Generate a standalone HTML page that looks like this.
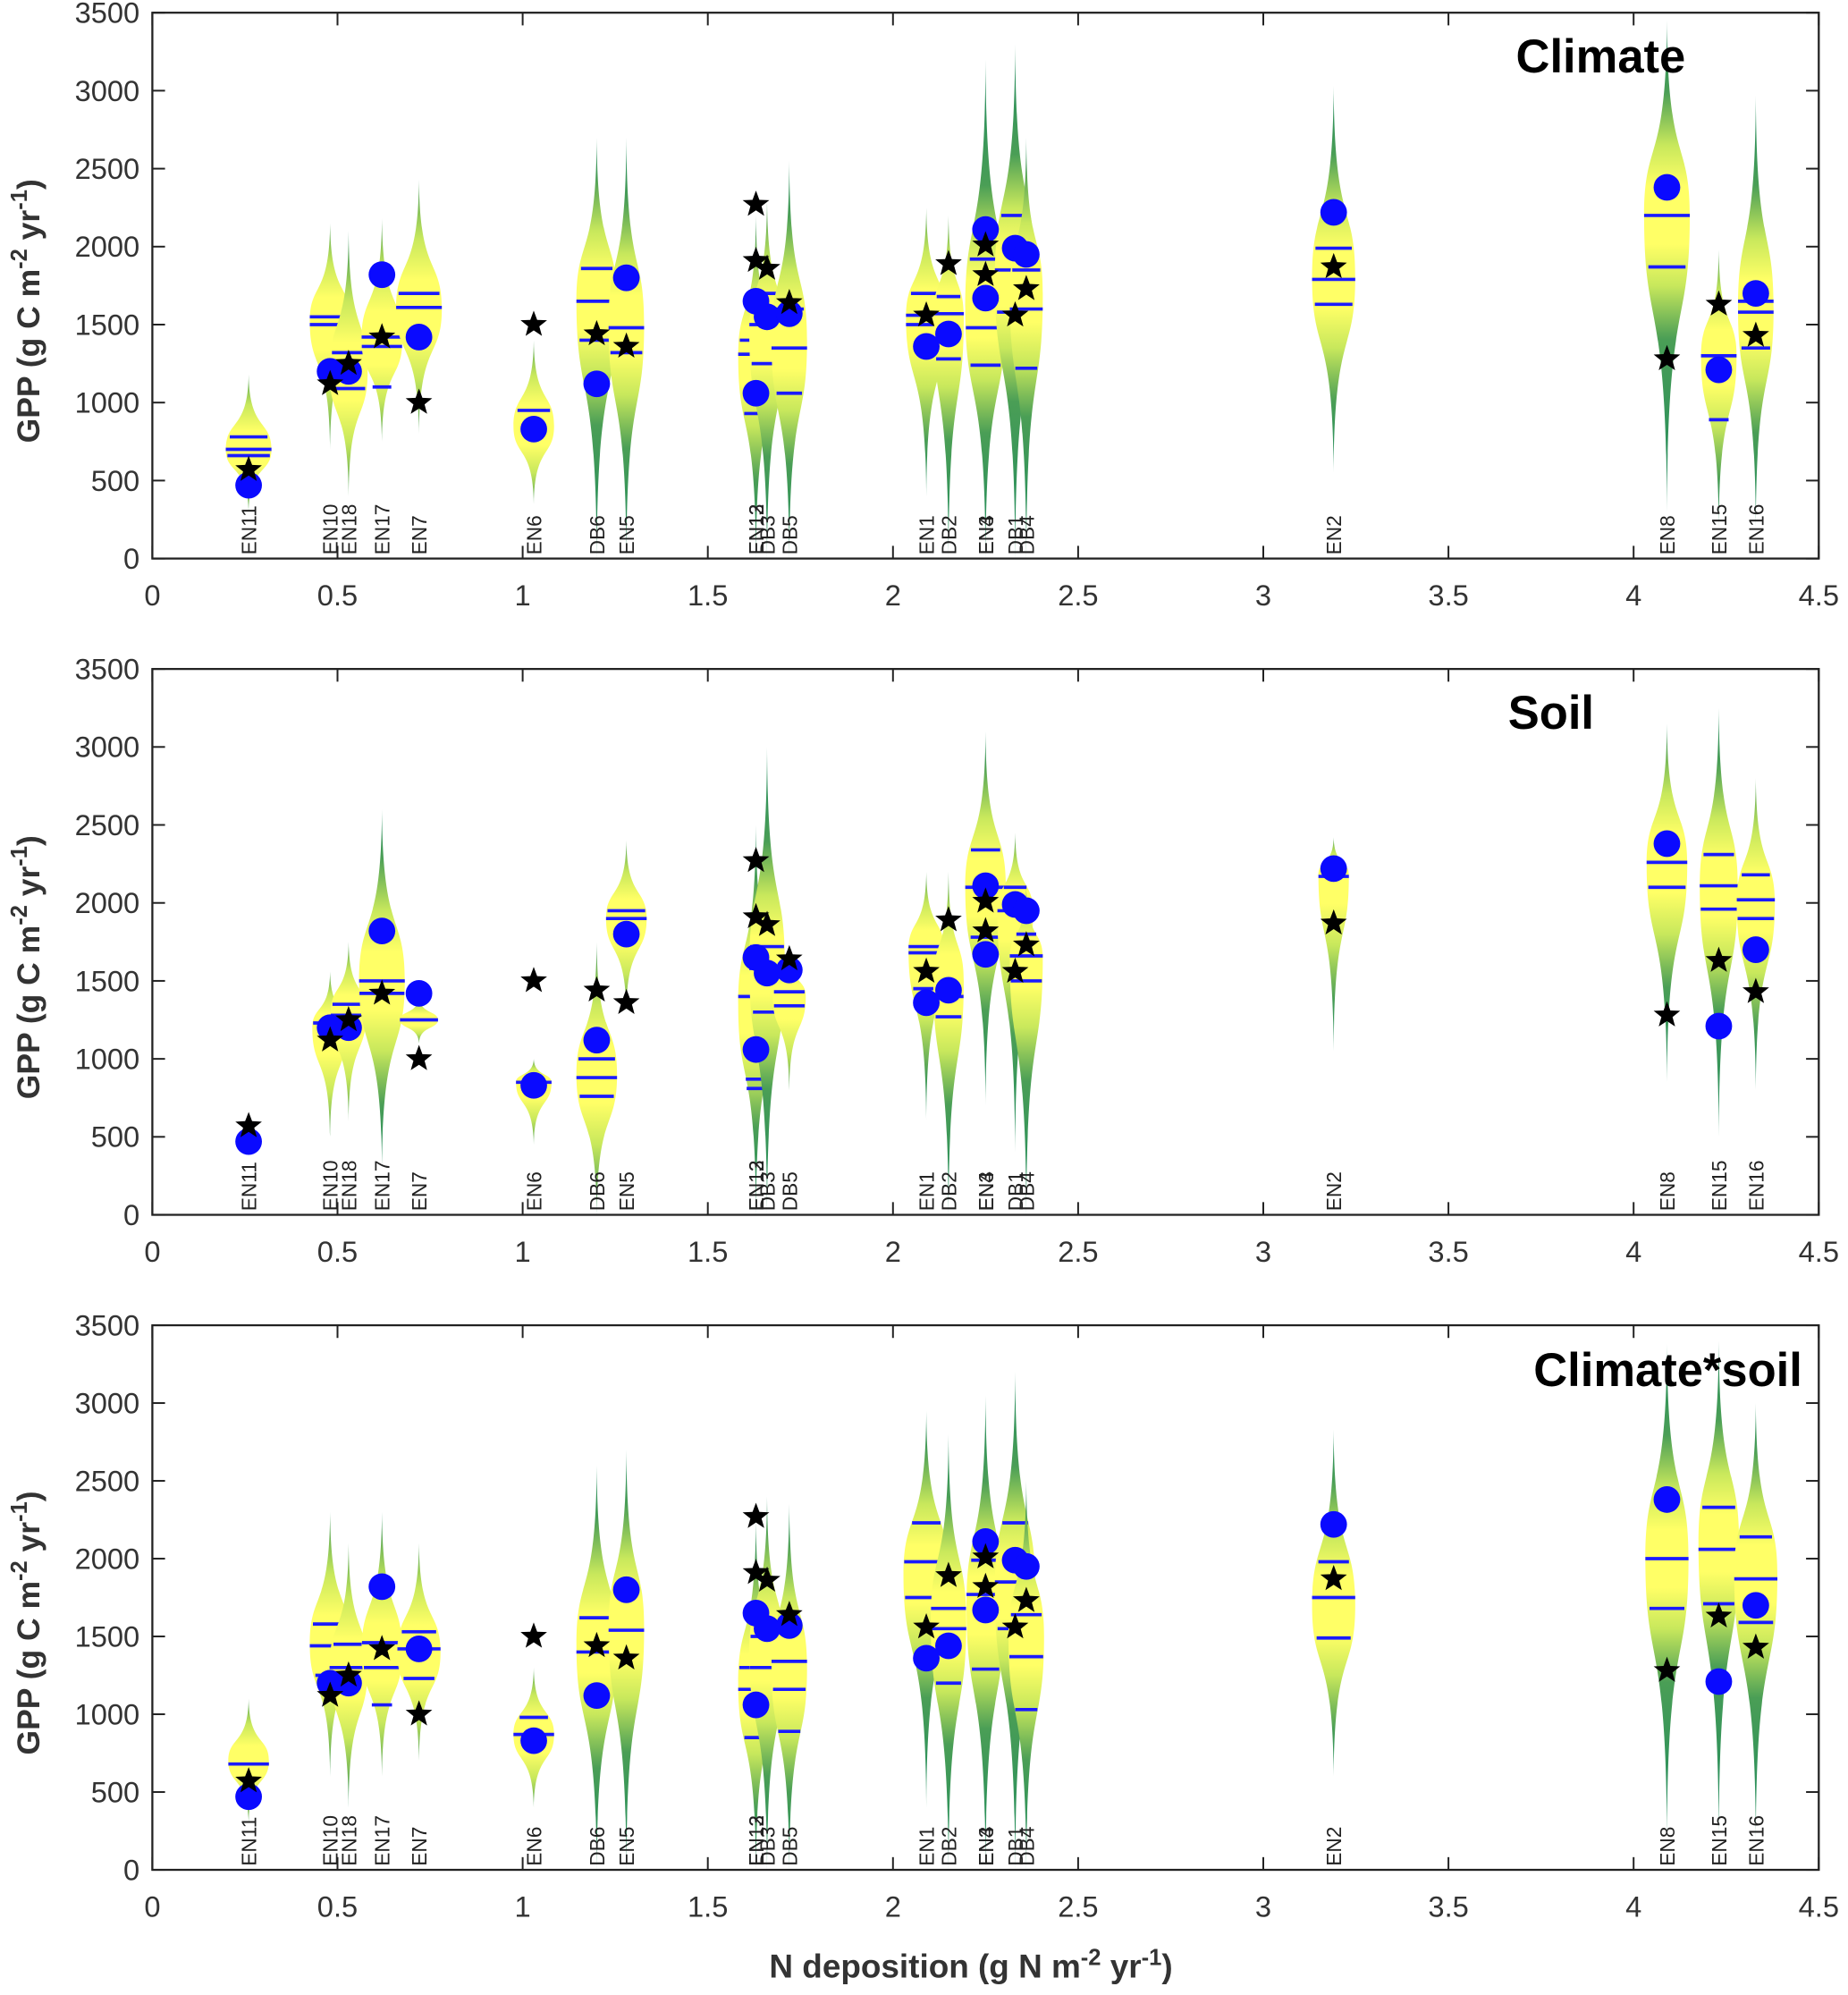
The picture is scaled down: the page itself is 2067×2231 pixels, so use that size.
<!DOCTYPE html>
<html><head><meta charset="utf-8"><style>
html,body{margin:0;padding:0;background:#fff;}
svg{display:block;}
text{font-family:"Liberation Sans",Arial,sans-serif;}
</style></head><body>
<svg id="chart" width="2067" height="2231" viewBox="0 0 1456 1571.6" xmlns="http://www.w3.org/2000/svg"></svg>
<script>
// ---- data ----
const sites = ["EN11","EN10","EN18","EN17","EN7","EN6","DB6","EN5","EN13","DB3","DB5","EN1","DB2","EN3","DB1","DB4","EN2","EN8","EN15","EN16"];
const nDep = [0.26,0.48,0.53,0.62,0.72,1.03,1.20,1.28,1.63,1.66,1.72,2.09,2.15,2.25,2.33,2.36,3.19,4.09,4.23,4.33];
const extraLabels = [["EN12",1.63],["EN4",2.25]];
const starVals = [570,1120,1250,1420,1000,1500,1440,1360,2270,1860,1640,1560,1890,1820,1560,1730,1870,1280,1630,1430];
const extraStars = [[1.63,1910],[2.25,2010]];
const circleVals = [470,1200,1200,1820,1420,830,1120,1800,1650,1550,1570,1360,1440,1670,1990,1950,2220,2380,1210,1700];
const extraCircles = [[1.63,1060],[2.25,2110]];
const panelTitles = ["Climate","Soil","Climate*soil"];
const yTicks = [0,500,1000,1500,2000,2500,3000,3500];
const xTicks = [0,0.5,1,1.5,2,2.5,3,3.5,4,4.5];
// violin data per panel: [lo, hi, mode, halfWidthPx, quartile lines]
const violinsClimate = [
 [300,1180,700,18,[780,700,660]],[700,2150,1520,16,[1550,1500]],[400,2100,1200,15,[1320,1090]],
 [750,2180,1400,16,[1420,1360,1100]],[800,2430,1600,18,[1700,1610]],[350,1400,850,16,[950]],
 [0,2700,1650,16,[1860,1650,1400]],[0,2700,1500,14,[1480,1320]],[0,2200,1300,14,[1400,1310,930]],
 [0,2300,1450,14,[1700,1500,1250]],[0,2550,1400,14,[1600,1350,1060]],[400,2250,1550,16,[1700,1560,1500]],
 [0,2200,1550,12,[1680,1570,1280]],[0,3200,1600,16,[1920,1480,1240]],[0,3300,1800,16,[2200,1850,1580]],
 [0,2700,1700,13,[1850,1600,1220]],[550,3030,1800,17,[1990,1790,1630]],[300,3450,2200,18,[2200,1870]],
 [200,1980,1300,14,[1300,890]],[200,2970,1600,14,[1650,1580,1350]]];
const violinsSoil = [
 [500,500,500,0,[]],[500,1560,1200,14,[1230]],[600,1750,1300,14,[1350,1280]],
 [300,2600,1500,18,[1500,1420]],[1100,1400,1250,15,[1250]],[450,1000,850,14,[850]],
 [0,1750,900,16,[1000,880,760]],[1300,2400,1900,16,[1950,1900]],[0,2500,1350,14,[1400,870,810]],
 [0,3000,1600,14,[1720,1580,1300]],[800,1700,1400,13,[1430,1340]],[600,2200,1700,14,[1720,1680,1450]],
 [0,2200,1500,12,[1400,1270]],[700,3100,2100,16,[2340,2100,1780]],[400,2450,1950,14,[2100,1950]],
 [0,2100,1650,13,[1800,1660,1500]],[1050,2420,2180,12,[2170]],[850,3150,2250,16,[2260,2100]],
 [500,3250,2100,15,[2310,2110,1960]],[800,2800,2000,15,[2180,2020,1900]]];
const violinsBoth = [
 [300,1100,700,16,[680]],[600,2300,1450,16,[1580,1440,1250]],[400,2100,1300,15,[1450,1300]],
 [600,2300,1400,16,[1460,1300,1060]],[700,2100,1400,17,[1530,1420,1230]],[400,1300,870,16,[980,870]],
 [0,2600,1450,16,[1620,1400]],[0,2700,1550,14,[1540]],[0,2250,1200,14,[1300,1160,850]],
 [0,2400,1400,14,[1500,1300]],[0,2350,1300,14,[1340,1160,890]],[400,2950,1900,18,[2230,1980,1750]],
 [0,2800,1600,14,[1680,1550,1200]],[0,3050,1700,15,[1990,1770,1290]],[0,3200,1800,16,[2230,1850,1550]],
 [0,2500,1500,14,[1640,1370,1030]],[600,2830,1700,17,[1980,1750,1490]],[200,3380,2000,17,[2000,1680]],
 [200,3400,2100,16,[2330,2060,1710]],[200,3000,1900,17,[2140,1870,1590]]];
const panelViolins = [violinsClimate, violinsSoil, violinsBoth];

// ---- layout ----
const NS = "http://www.w3.org/2000/svg";
const svg = document.getElementById('chart');
const X0 = 120, X1 = 1433;
const panelTop = [10, 527, 1044], panelBot = [440, 957, 1473];
const titleRight = [1328, 1256, 1420], titleY = [57, 574, 1092];
function xs(v){ return X0 + v/4.5*(X1-X0); }
function mk(tag, attrs, parent){ const e=document.createElementNS(NS,tag); for(const k in attrs) e.setAttribute(k,attrs[k]); (parent||svg).appendChild(e); return e; }
const defs = mk('defs',{});
let gid = 0;
function starPath(cx, cy, r){
  let d=''; for(let i=0;i<10;i++){ const a=-Math.PI/2+i*Math.PI/5; const rr=i%2?r*0.42:r; d+=(i?'L':'M')+(cx+rr*Math.cos(a)).toFixed(1)+','+(cy+rr*Math.sin(a)).toFixed(1);} return d+'Z';
}
const cl = v => Math.max(0, Math.min(1, v));

panelViolins.forEach((vio, p) => {
  const top = panelTop[p], bot = panelBot[p];
  const ys = v => bot - v/3500*(bot-top);
  const g = mk('g',{});
  
  
  vio.forEach((v, i) => {
    const [lo, hi, mode, w, lines] = v;
    if (w <= 0) return;
    const cx = xs(nDep[i]);
    const yh = ys(hi), yl = ys(lo), ym = ys(mode);
    const id = 'vg' + (gid++);
    const grad = mk('linearGradient',{id:id, gradientUnits:'userSpaceOnUse', x1:0, y1:yh, x2:0, y2:yl}, defs);
    const L = (yl-yh || 1);
    const f = (ym-yh)/L;
    const up = ym - yh, dn = yl - ym;
    const ua = Math.min(up*0.7, 65)/L, db = Math.min(dn*0.7, 65)/L;
    const stops = [[0,'#1e8a5e'],[cl(f-ua*1.5),'#4a9e56'],[cl(f-ua*0.85),'#c8e85c'],[cl(f-ua*0.35),'#ffff66'],[cl(f+db*0.35),'#ffff66'],[cl(f+db*0.85),'#c8e85c'],[cl(f+db*1.5),'#4a9e56'],[1,'#1e8a5e']];
    stops.forEach(s => mk('stop',{offset:s[0], 'stop-color':s[1]}, grad));
    const d = `M${cx},${yh} C${cx+0.5},${yh+up*0.75} ${cx+w},${ym-up*0.4} ${cx+w},${ym} C${cx+w},${ym+dn*0.4} ${cx+0.5},${yl-dn*0.75} ${cx},${yl} C${cx-0.5},${yl-dn*0.75} ${cx-w},${ym+dn*0.4} ${cx-w},${ym} C${cx-w},${ym-up*0.4} ${cx-0.5},${yh+up*0.75} ${cx},${yh}Z`;
    const path = mk('path',{d:d, fill:'url(#'+id+')'}, g);
    
    
    lines.forEach((lv) => {
      const y = ys(lv);
      const frac = lv>=mode ? (y-yh)/(up||1) : (yl-y)/(dn||1);
      const hw = Math.max(4, w*Math.min(1, 0.2+0.9*frac*frac));
      const ln = mk('line',{x1:cx-hw, x2:cx+hw, y1:y, y2:y, stroke:'#1a1aff', 'stroke-width':2.6}, g);
      
      
    });
  });
  const labs = sites.map((s,i)=>[s,nDep[i]]).concat(extraLabels);
  labs.forEach(([s, xv]) => {
    const t = mk('text',{x:0, y:0, transform:`translate(${xs(xv)+6},${bot-3}) rotate(-90)`, 'font-size':16, fill:'#222'}, g);
    t.textContent = s;
    
    
  });
  circleVals.map((c,i)=>[nDep[i],c]).concat(extraCircles).forEach(([xv, cv]) => {
    const c = mk('circle',{cx:xs(xv), cy:ys(cv), r:10.5, fill:'#0a0aff'}, g);
    
    
  });
  starVals.map((s,i)=>[nDep[i],s]).concat(extraStars).forEach(([xv, sv]) => {
    const s = mk('path',{d:starPath(xs(xv), ys(sv), 11), fill:'#000'}, g);
    
    
  });
  const box = mk('rect',{x:X0, y:top, width:X1-X0, height:bot-top, fill:'none', stroke:'#222', 'stroke-width':1.6}, g);
  
  
  yTicks.forEach(tv => {
    const y = ys(tv);
    mk('line',{x1:X0, x2:X0+10, y1:y, y2:y, stroke:'#222', 'stroke-width':1.4}, g);
    mk('line',{x1:X1, x2:X1-10, y1:y, y2:y, stroke:'#222', 'stroke-width':1.4}, g);
    const t = mk('text',{x:X0-10, y:y+8, 'text-anchor':'end', 'font-size':23, fill:'#333'}, g);
    t.textContent = tv;
    
    
  });
  xTicks.forEach(tv => {
    const x = xs(tv);
    mk('line',{x1:x, x2:x, y1:bot, y2:bot-10, stroke:'#222', 'stroke-width':1.4}, g);
    mk('line',{x1:x, x2:x, y1:top, y2:top+10, stroke:'#222', 'stroke-width':1.4}, g);
    const t = mk('text',{x:x, y:bot+37, 'text-anchor':'middle', 'font-size':23, fill:'#333'}, g);
    t.textContent = tv;
    
    
  });
  const yt = mk('text',{transform:`translate(31,${(top+bot)/2+20}) rotate(-90)`, 'text-anchor':'middle', 'font-size':25, 'font-weight':'bold', fill:'#333'}, g);
  yt.innerHTML = 'GPP (g C m<tspan dy="-10" font-size="18">-2</tspan><tspan dy="10"> yr</tspan><tspan dy="-10" font-size="18">-1</tspan><tspan dy="10">)</tspan>';
  
  
  const pt = mk('text',{x:titleRight[p], y:titleY[p], 'text-anchor':'end', 'font-size':37, 'font-weight':'bold', fill:'#000'}, g);
  pt.textContent = panelTitles[p];
  
  
});
const xt = mk('text',{x:765, y:1558, 'text-anchor':'middle', 'font-size':26, 'font-weight':'bold', fill:'#333'});
xt.innerHTML = 'N deposition (g N m<tspan dy="-10" font-size="18">-2</tspan><tspan dy="10"> yr</tspan><tspan dy="-10" font-size="18">-1</tspan><tspan dy="10">)</tspan>';


</script>
</body></html>
